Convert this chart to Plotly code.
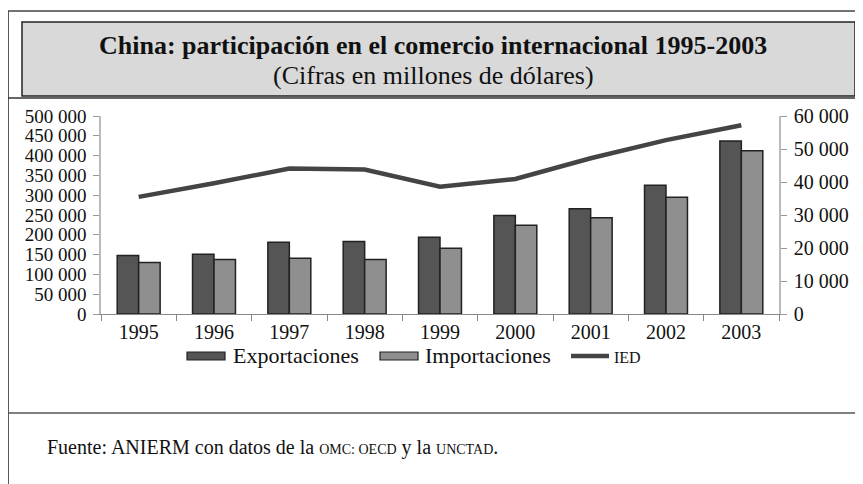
import plotly.graph_objects as go

# ---------------- data ----------------
years = ["1995", "1996", "1997", "1998", "1999", "2000", "2001", "2002", "2003"]
exportaciones = [148000, 151000, 181000, 183000, 194000, 249000, 266000, 325000, 437000]
importaciones = [130000, 137500, 140500, 137500, 166000, 224000, 243000, 295000, 412000]
ied = [35500, 39600, 44100, 43800, 38600, 40900, 47200, 52700, 57200]

left_ticks = [0, 50000, 100000, 150000, 200000, 250000, 300000, 350000, 400000, 450000, 500000]
left_labels = ["0", "50 000", "100 000", "150 000", "200 000", "250 000", "300 000",
               "350 000", "400 000", "450 000", "500 000"]
right_ticks = [0, 10000, 20000, 30000, 40000, 50000, 60000]
right_labels = ["0", "10 000", "20 000", "30 000", "40 000", "50 000", "60 000"]

title = "China: participación en el comercio internacional 1995-2003"
subtitle = "(Cifras en millones de dólares)"
legend_names = ["Exportaciones", "Importaciones", "IED"]

# ---------------- style ----------------
FONT = "Liberation Serif"
C_EXP = "#555555"
C_IMP = "#8f8f8f"
C_IED = "#444444"
C_EDGE = "#222222"

OFF = 8  # page body margin
W, H = 863 - OFF, 484 - OFF
ML = 101 - OFF
MT = 116 - OFF
MR = W - (779 - OFF)
MB = H - (314 - OFF)
PW, PH = W - ML - MR, H - MT - MB


def px(x):
    return (x - OFF - ML) / PW


def py(y):
    return (H - MB - (y - OFF)) / PH


fig = go.Figure()
fig.add_trace(go.Bar(x=years, y=exportaciones, name=legend_names[0],
                     marker=dict(color=C_EXP, line=dict(color=C_EDGE, width=1.5))))
fig.add_trace(go.Bar(x=years, y=importaciones, name=legend_names[1],
                     marker=dict(color=C_IMP, line=dict(color=C_EDGE, width=1.5))))
fig.add_trace(go.Scatter(x=years, y=ied, name=legend_names[2], yaxis="y2", mode="lines",
                         line=dict(color=C_IED, width=4.5)))

shapes = []
# outer frame
shapes.append(dict(type="line", xref="paper", yref="paper", x0=px(8), x1=px(8), y0=py(11), y1=py(500),
                   line=dict(color="#222", width=1.5)))
shapes.append(dict(type="line", xref="paper", yref="paper", x0=px(8), x1=px(880), y0=py(11), y1=py(11),
                   line=dict(color="#444", width=1.5)))
# title box
shapes.append(dict(type="rect", xref="paper", yref="paper", x0=px(22), x1=px(855), y0=py(22), y1=py(96),
                   fillcolor="#d9d9d9", line=dict(color="#222", width=1.5), layer="below"))
# separators
shapes.append(dict(type="line", xref="paper", yref="paper", x0=px(8), x1=px(880), y0=py(98), y1=py(98),
                   line=dict(color="#333", width=1.5)))
shapes.append(dict(type="line", xref="paper", yref="paper", x0=px(8), x1=px(880), y0=py(413), y1=py(413),
                   line=dict(color="#555", width=1.5)))
# manual legend swatches
shapes.append(dict(type="rect", xref="paper", yref="paper", x0=px(187), x1=px(225), y0=py(352), y1=py(360),
                   fillcolor=C_EXP, line=dict(color=C_EDGE, width=1.2)))
shapes.append(dict(type="rect", xref="paper", yref="paper", x0=px(380), x1=px(418), y0=py(352), y1=py(360),
                   fillcolor=C_IMP, line=dict(color=C_EDGE, width=1.2)))
shapes.append(dict(type="line", xref="paper", yref="paper", x0=px(571), x1=px(609), y0=py(356), y1=py(356),
                   line=dict(color=C_IED, width=4.5)))

annotations = [
    dict(text="<b>" + title + "</b>", x=px(433), y=py(46), xref="paper", yref="paper",
         showarrow=False, xanchor="center", yanchor="middle", font=dict(family=FONT, size=26, color="#111")),
    dict(text=subtitle, x=px(433), y=py(75), xref="paper", yref="paper",
         showarrow=False, xanchor="center", yanchor="middle", font=dict(family=FONT, size=26, color="#111")),
    dict(text=legend_names[0], x=px(231), y=py(355), xref="paper", yref="paper",
         showarrow=False, xanchor="left", yanchor="middle", font=dict(family=FONT, size=22, color="#111")),
    dict(text=legend_names[1], x=px(423), y=py(355), xref="paper", yref="paper",
         showarrow=False, xanchor="left", yanchor="middle", font=dict(family=FONT, size=22, color="#111")),
    dict(text=legend_names[2], x=px(612), y=py(357), xref="paper", yref="paper",
         showarrow=False, xanchor="left", yanchor="middle", font=dict(family=FONT, size=16, color="#111")),
    dict(text="Fuente: ANIERM con datos de la <span style='font-size:14px'>OMC: OECD</span> y la "
              "<span style='font-size:14px'>UNCTAD</span>.",
         x=px(45), y=py(447), xref="paper", yref="paper",
         showarrow=False, xanchor="left", yanchor="middle", font=dict(family=FONT, size=20, color="#111")),
]

fig.update_layout(
    width=W, height=H,
    margin=dict(l=ML, r=MR, t=MT, b=MB),
    paper_bgcolor="white", plot_bgcolor="white",
    showlegend=False,
    barmode="group", bargap=0.43, bargroupgap=0.0,
    font=dict(family=FONT, size=19, color="#111"),
    xaxis=dict(type="category", showgrid=False, showline=True, linecolor="#888", linewidth=1.2,
               ticks="outside", tickson="boundaries", ticklen=6, tickcolor="#888",
               tickfont=dict(family=FONT, size=20, color="#111"), zeroline=False),
    yaxis=dict(range=[0, 500000], tickvals=left_ticks, ticktext=left_labels, showgrid=False,
               showline=True, linecolor="#bbb", linewidth=1.5, ticks="outside", ticklen=6,
               tickcolor="#999", ticklabelstandoff=3, zeroline=False,
               tickfont=dict(family=FONT, size=19, color="#111")),
    yaxis2=dict(range=[0, 60000], tickvals=right_ticks, ticktext=right_labels, overlaying="y",
                side="right", showgrid=False, showline=True, linecolor="#bbb", linewidth=1.5,
                ticks="outside", ticklen=6, tickcolor="#999", ticklabelstandoff=3, zeroline=False,
                tickfont=dict(family=FONT, size=20, color="#111")),
    shapes=shapes,
    annotations=annotations,
)

fig.write_html("out.html")
